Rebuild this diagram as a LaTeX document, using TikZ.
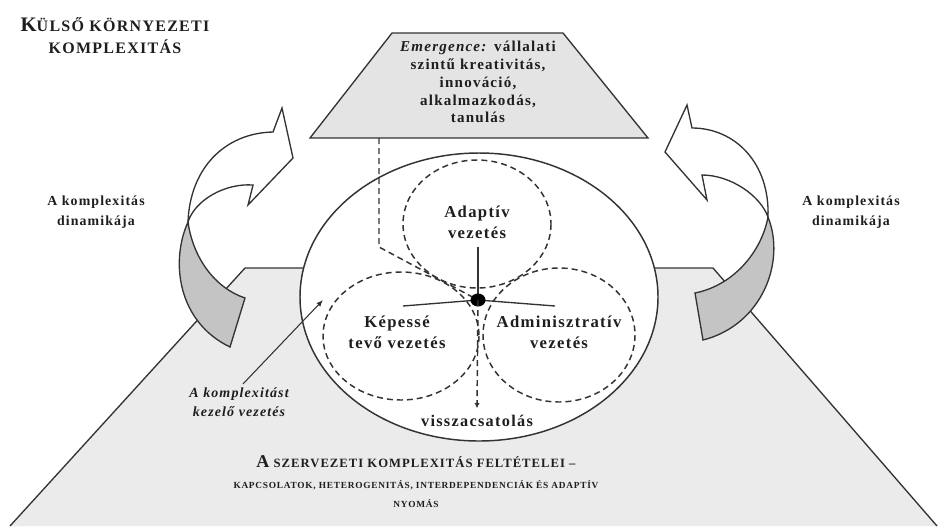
\documentclass[tikz,border=0pt]{standalone}
\usepackage{fontspec}
\setmainfont{Liberation Serif}[LetterSpace=8]
\usetikzlibrary{arrows.meta}
\definecolor{pyrgray}{HTML}{EBEBEB}
\definecolor{trapgray}{HTML}{E4E4E4}
\definecolor{ribbon}{HTML}{C4C4C4}
\definecolor{ink}{HTML}{333333}
\definecolor{txt}{HTML}{1E1E1E}
\newcommand\bigletter[2]{{\fontsize{#1}{#1}\selectfont #2}}
\tikzset{
  outline/.style={draw=ink, line width=1pt, line join=miter},
  dsh/.style={draw=ink, line width=1.1pt, dash pattern=on 4.5pt off 3pt},
  solidline/.style={draw=ink, line width=1pt},
  lbl/.style={align=center, inner sep=0pt, text=txt, font=\bfseries\fontsize{12.5}{15.5}\selectfont},
  sidelbl/.style={align=center, inner sep=0pt, text=txt, font=\bfseries\fontsize{10.4}{15}\selectfont},
}
\begin{document}
\begin{tikzpicture}[x=0.75pt,y=-0.75pt]
\useasboundingbox (0,0) rectangle (938,526);
% base pyramid
\fill[pyrgray] (10,526) -- (245,268) -- (713,268) -- (937,526) -- cycle;
\draw[outline] (10,526) -- (245,268) -- (713,268) -- (937,526);
% left curved arrow
\draw[outline, fill=ribbon] (188,222) .. controls (170,262) and (178,322) .. (230,347)
  -- (245,298) .. controls (215,288) and (193,258) .. (188,222) -- cycle;
\draw[outline, fill=white] (188,222) .. controls (190,168) and (225,133) .. (273,132)
  -- (282,108) -- (293,158) -- (248,205) -- (253,185)
  .. controls (225,183) and (195,200) .. (188,222) -- cycle;
% right curved arrow
\draw[outline, fill=ribbon] (768,217) .. controls (786,262) and (762,325) .. (703,340)
  -- (695,293) .. controls (735,285) and (762,250) .. (768,217) -- cycle;
\draw[outline, fill=white] (768,217) .. controls (770,163) and (735,128) .. (692,128)
  -- (687,105) -- (665,152) -- (707,200) -- (702,175)
  .. controls (730,175) and (760,195) .. (768,217) -- cycle;
% top trapezoid
\draw[outline, fill=trapgray] (392,33) -- (563,33) -- (648,138) -- (310,138) -- cycle;
\node[align=center, inner sep=0pt, text=txt, font=\bfseries\fontsize{11.3}{13.4}\selectfont] (emer) at (478,82)
  {\textit{Emergence:} vállalati\\szintű kreativitás,\\innováció,\\alkalmazkodás,\\tanulás};
\coordinate (tb) at (379,138);
% main ellipse
\draw[outline, line width=1.1pt, fill=white] (479,297) ellipse [x radius=179, y radius=144];
% dashed circles
\draw[dsh] (477,224) ellipse [x radius=74, y radius=64];
\draw[dsh] (401,336) ellipse [x radius=78, y radius=64];
\draw[dsh] (559,335) ellipse [x radius=76, y radius=67];
% centre
\coordinate (dot) at (478,300);
\coordinate (up) at (478,247);
\coordinate (lf) at (403,306);
\coordinate (rt) at (555,306);
\coordinate (bend) at (379,247);
\draw[solidline] (dot) -- (up);
\draw[solidline] (dot) -- (lf);
\draw[solidline] (dot) -- (rt);
\draw[dsh] (tb) -- (bend) -- (dot);
\fill[black] (dot) ellipse [x radius=7.5, y radius=6.5];
% labels in circles
\node[lbl] (adapt) at (477,222) {Adaptív\\vezetés};
\node[lbl] (kep) at (397,332) {Képessé\\tevő vezetés};
\node[lbl] (adm) at (559,332) {Adminisztratív\\vezetés};
\node[lbl, font=\bfseries\fontsize{12.2}{15}\selectfont] (visz) at (477,421) {visszacsatolás};
\draw[dsh, arrows={-Latex[length=4pt,width=4pt]}] (dot) -- ([yshift=5pt]visz.north);
% managing label + arrow
\node[align=center, inner sep=0pt, text=txt, font=\bfseries\itshape\fontsize{10.5}{14.3}\selectfont] (kez) at (239,402)
  {A komplexitást\\kezelő vezetés};
\coordinate (kt) at (323,300);
\draw[solidline, line width=0.8pt, arrows={-Latex[length=5pt,width=4pt]}] ([xshift=3pt,yshift=2.5pt]kez.north) -- (kt);
% side labels
\node[sidelbl] (dynL) at (96,212) {A komplexitás\\dinamikája};
\node[sidelbl] (dynR) at (851,212) {A komplexitás\\dinamikája};
% top-left title
\node[align=center, inner sep=0pt, text=txt, font=\bfseries\fontsize{12}{16.5}\selectfont] (ext) at (115,36)
  {\bigletter{15.5}{K}ÜLSŐ KÖRNYEZETI\\KOMPLEXITÁS};
% bottom title
\node[align=center, inner sep=0pt, text=txt, font=\bfseries\fontsize{7}{14.25}\selectfont] (org) at (416,482)
  {{\fontsize{9.5}{9.5}\selectfont\bigletter{13.5}{A} SZERVEZETI KOMPLEXITÁS FELTÉTELEI –}\\[1.5pt]
   KAPCSOLATOK, HETEROGENITÁS, INTERDEPENDENCIÁK ÉS ADAPTÍV\\NYOMÁS};
\end{tikzpicture}
\end{document}
